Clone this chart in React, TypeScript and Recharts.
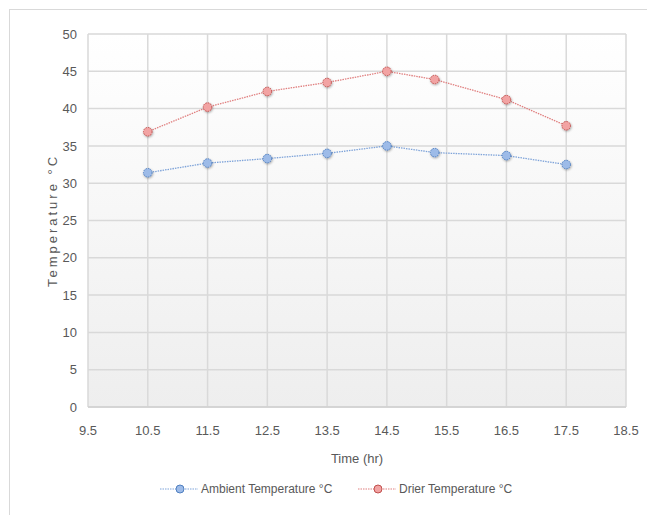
import React from 'react';
import {
  LineChart,
  Line,
  XAxis,
  YAxis,
  CartesianGrid,
} from 'recharts';

const times = [10.5, 11.5, 12.5, 13.5, 14.5, 15.3, 16.5, 17.5];
const ambientTemp = [31.4, 32.7, 33.3, 34.0, 35.0, 34.1, 33.7, 32.5];
const drierTemp = [36.9, 40.2, 42.3, 43.5, 45.0, 43.9, 41.2, 37.7];
const xTicks = [9.5, 10.5, 11.5, 12.5, 13.5, 14.5, 15.5, 16.5, 17.5, 18.5];
const yTicks = [0, 5, 10, 15, 20, 25, 30, 35, 40, 45, 50];
const seriesNames = ['Ambient Temperature °C', 'Drier Temperature °C'];

const data = times.map((t, i) => ({ t, ambient: ambientTemp[i], drier: drierTemp[i] }));

const FONT = '"Liberation Sans Narrow", "Liberation Sans", Arial, sans-serif';
const TEXT = '#595959';

const BLUE = { line: '#7ea3d9', fill: '#9dbbe8', stroke: '#4f7fc0' };
const RED = { line: '#e07f7f', fill: '#f2a3a3', stroke: '#c0504d' };

const LegendIcon = ({ c }: { c: typeof BLUE }) => (
  <svg width={38} height={12} style={{ display: 'block' }}>
    <line x1={0} y1={6} x2={38} y2={6} stroke={c.line} strokeWidth={1.2} strokeDasharray="1.5 1" />
    <circle cx={20} cy={6} r={4} fill={c.fill} stroke={c.stroke} strokeWidth={1} />
  </svg>
);

export default function App() {
  return (
    <div style={{ position: 'absolute', left: 0, top: 0, width: 647, height: 515, overflow: 'hidden', background: '#fff' }}>
      <div
        style={{
          position: 'absolute',
          left: 9,
          top: 9,
          width: 700,
          height: 600,
          borderLeft: '1px solid #d9d9d9',
          borderTop: '1px solid #d9d9d9',
        }}
      />
      <div style={{ position: 'absolute', left: 0, top: 0 }}>
        <LineChart width={647} height={515} data={data} margin={{ top: 34, right: 21, left: 16, bottom: 78 }}>
          <defs>
            <linearGradient id="plotBg" x1="0" y1="0" x2="0" y2="1">
              <stop offset="0%" stopColor="#ffffff" />
              <stop offset="100%" stopColor="#eeeeee" />
            </linearGradient>
            <filter id="dotShadow" x="-50%" y="-50%" width="200%" height="200%">
              <feDropShadow dx="0.6" dy="1" stdDeviation="0.8" floodColor="#000" floodOpacity="0.35" />
            </filter>
          </defs>
          <CartesianGrid stroke="#d9d9d9" strokeWidth={1.5} fill="url(#plotBg)" fillOpacity={1} />
          <XAxis
            type="number"
            dataKey="t"
            domain={[9.5, 18.5]}
            ticks={xTicks}
            height={30}
            axisLine={{ stroke: '#d0d0d0', strokeWidth: 1.5 }}
            tickLine={false}
            tickMargin={13}
            tick={{ fill: TEXT, fontSize: 13, fontFamily: FONT }}
            label={{ value: 'Time (hr)', position: 'bottom', offset: 17, fill: TEXT, fontSize: 13, fontFamily: FONT }}
            allowDataOverflow
          />
          <YAxis
            type="number"
            domain={[0, 50]}
            ticks={yTicks}
            width={72}
            axisLine={false}
            tickLine={false}
            tickMargin={5}
            tick={{ fill: TEXT, fontSize: 13, fontFamily: FONT }}
            label={{
              value: 'Temperature °C',
              angle: -90,
              position: 'center',
              fill: TEXT,
              fontSize: 13,
              fontFamily: FONT,
              letterSpacing: 3,
            }}
          />
          <Line
            dataKey="ambient"
            name={seriesNames[0]}
            type="linear"
            stroke={BLUE.line}
            strokeWidth={1.3}
            strokeDasharray="1.5 1"
            dot={{ r: 4.3, fill: BLUE.fill, stroke: BLUE.stroke, strokeWidth: 1, filter: 'url(#dotShadow)' }}
            isAnimationActive={false}
          />
          <Line
            dataKey="drier"
            name={seriesNames[1]}
            type="linear"
            stroke={RED.line}
            strokeWidth={1.3}
            strokeDasharray="1.5 1"
            dot={{ r: 4.3, fill: RED.fill, stroke: RED.stroke, strokeWidth: 1, filter: 'url(#dotShadow)' }}
            isAnimationActive={false}
          />
        </LineChart>
      </div>
      <div
        style={{
          position: 'absolute',
          top: 481,
          left: 160,
          display: 'flex',
          alignItems: 'center',
          fontFamily: FONT,
          fontSize: 12,
          color: TEXT,
          lineHeight: '16px',
        }}
      >
        <LegendIcon c={BLUE} />
        <span style={{ marginLeft: 3, width: 157 }}>{seriesNames[0]}</span>
        <LegendIcon c={RED} />
        <span style={{ marginLeft: 3 }}>{seriesNames[1]}</span>
      </div>
    </div>
  );
}
